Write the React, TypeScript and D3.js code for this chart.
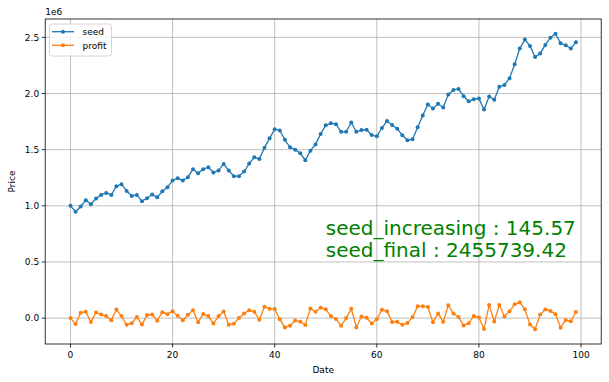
import React from "react";
import * as d3 from "d3";

// seed (in units of 1e6)
const seedValues: number[] = [
  1.000, 0.947, 0.994, 1.050, 1.015, 1.065, 1.097, 1.115, 1.097, 1.174,
  1.192, 1.133, 1.088, 1.097, 1.041, 1.068, 1.100, 1.077, 1.130, 1.165,
  1.226, 1.246, 1.226, 1.255, 1.326, 1.290, 1.326, 1.344, 1.296, 1.314,
  1.373, 1.314, 1.264, 1.264, 1.305, 1.376, 1.432, 1.417, 1.518, 1.601,
  1.682, 1.671, 1.588, 1.521, 1.500, 1.468, 1.406, 1.491, 1.547, 1.639,
  1.718, 1.736, 1.727, 1.659, 1.659, 1.742, 1.659, 1.674, 1.677, 1.630,
  1.619, 1.693, 1.755, 1.720, 1.687, 1.628, 1.584, 1.593, 1.699, 1.805,
  1.903, 1.867, 1.909, 1.876, 1.991, 2.032, 2.041, 1.976, 1.931, 1.950,
  1.955, 1.857, 1.974, 1.944, 2.061, 2.076, 2.137, 2.260, 2.401, 2.480,
  2.424, 2.325, 2.357, 2.433, 2.497, 2.532, 2.447, 2.430, 2.401, 2.4557,
];

// profit (in units of 1e6)
const profitValues: number[] = [
  0.000, -0.053, 0.047, 0.056, -0.035, 0.050, 0.032, 0.018, -0.018, 0.077,
  0.018, -0.059, -0.045, 0.009, -0.056, 0.027, 0.032, -0.023, 0.053, 0.035,
  0.061, 0.020, -0.020, 0.029, 0.071, -0.036, 0.036, 0.018, -0.048, 0.018,
  0.059, -0.059, -0.050, 0.000, 0.041, 0.071, 0.056, -0.015, 0.101, 0.083,
  0.081, -0.011, -0.083, -0.067, -0.021, -0.032, -0.062, 0.085, 0.056, 0.092,
  0.079, 0.018, -0.009, -0.068, 0.000, 0.083, -0.083, 0.015, 0.003, -0.047,
  -0.011, 0.074, 0.062, -0.035, -0.033, -0.059, -0.044, 0.009, 0.106, 0.106,
  0.098, -0.036, 0.042, -0.033, 0.115, 0.041, 0.009, -0.065, -0.045, 0.019,
  0.005, -0.098, 0.117, -0.030, 0.117, 0.015, 0.061, 0.123, 0.141, 0.079,
  -0.056, -0.099, 0.032, 0.076, 0.064, 0.035, -0.085, -0.017, -0.029, 0.0547,
];

const xTicks: number[] = [0, 20, 40, 60, 80, 100];
const yTicks: number[] = [0, 0.5, 1.0, 1.5, 2.0, 2.5];
const seriesNames: string[] = ["seed", "profit"];
const seriesColors: string[] = ["#1f77b4", "#ff7f0e"];
const annotationLines: string[] = ["seed_increasing : 145.57", "seed_final : 2455739.42"];

const W = 609;
const H = 382;
const L = 45.2;
const R = 601.2;
const T = 19;
const B = 344;
const FONT = "DejaVu Sans, sans-serif";

export default function App() {
  const n = seedValues.length;
  const all = [...seedValues, ...profitValues];
  const ymin = d3.min(all)!;
  const ymax = d3.max(all)!;
  const ym = (ymax - ymin) * 0.05;
  const xm = (n - 1) * 0.05;
  const x = d3.scaleLinear().domain([-xm, n - 1 + xm]).range([L, R]);
  const y = d3.scaleLinear().domain([ymin - ym, ymax + ym]).range([B, T]);
  const line = d3
    .line<number>()
    .x((_, i) => x(i))
    .y((d) => y(d));
  const series = [seedValues, profitValues];

  return (
    <svg
      width={W}
      height={H}
      style={{ position: "absolute", left: 0, top: 0, background: "#fff" }}
      fontFamily={FONT}
    >
      <rect x={0} y={0} width={W} height={H} fill="#fff" />
      {/* grid */}
      <g stroke="#b0b0b0" strokeWidth={0.8}>
        {xTicks.map((t) => (
          <line key={"gx" + t} x1={x(t)} x2={x(t)} y1={T} y2={B} />
        ))}
        {yTicks.map((t) => (
          <line key={"gy" + t} x1={L} x2={R} y1={y(t)} y2={y(t)} />
        ))}
      </g>
      {/* series */}
      {series.map((s, k) => (
        <g key={seriesNames[k]}>
          <path d={line(s) || ""} fill="none" stroke={seriesColors[k]} strokeWidth={1.3} />
          {s.map((v, i) => (
            <circle key={i} cx={x(i)} cy={y(v)} r={2} fill={seriesColors[k]} />
          ))}
        </g>
      ))}
      {/* annotation */}
      <g fill="#008000" fontSize={20}>
        {annotationLines.map((t, i) => (
          <text key={t} x={x(50)} y={234.5 + i * 22.5}>
            {t}
          </text>
        ))}
      </g>
      {/* spines */}
      <rect x={L} y={T} width={R - L} height={B - T} fill="none" stroke="#000" strokeWidth={0.8} />
      {/* x ticks */}
      <g fontSize={9} fill="#000">
        {xTicks.map((t) => (
          <g key={"xt" + t}>
            <line x1={x(t)} x2={x(t)} y1={B} y2={B + 3.5} stroke="#000" strokeWidth={0.8} />
            <text x={x(t)} y={B + 14} textAnchor="middle">
              {t}
            </text>
          </g>
        ))}
        {yTicks.map((t) => (
          <g key={"yt" + t}>
            <line x1={L - 3.5} x2={L} y1={y(t)} y2={y(t)} stroke="#000" strokeWidth={0.8} />
            <text x={L - 6} y={y(t) + 3.3} textAnchor="end">
              {d3.format(".1f")(t)}
            </text>
          </g>
        ))}
        <text x={L} y={T - 4}>1e6</text>
        <text x={(L + R) / 2} y={373} textAnchor="middle">
          Date
        </text>
        <text transform={`translate(15,${(T + B) / 2}) rotate(-90)`} textAnchor="middle">
          Price
        </text>
      </g>
      {/* legend */}
      <g>
        <rect x={49.5} y={24} width={62} height={32} rx={2.5} fill="#fff" fillOpacity={0.8} stroke="#cccccc" strokeWidth={0.8} />
        {seriesNames.map((name, k) => (
          <g key={"lg" + name}>
            <line x1={52} x2={74} y1={31.7 + k * 13.6} y2={31.7 + k * 13.6} stroke={seriesColors[k]} strokeWidth={1.3} />
            <circle cx={63} cy={31.7 + k * 13.6} r={2} fill={seriesColors[k]} />
            <text x={82.5} y={34.9 + k * 13.6} fontSize={9} fill="#000">
              {name}
            </text>
          </g>
        ))}
      </g>
    </svg>
  );
}
